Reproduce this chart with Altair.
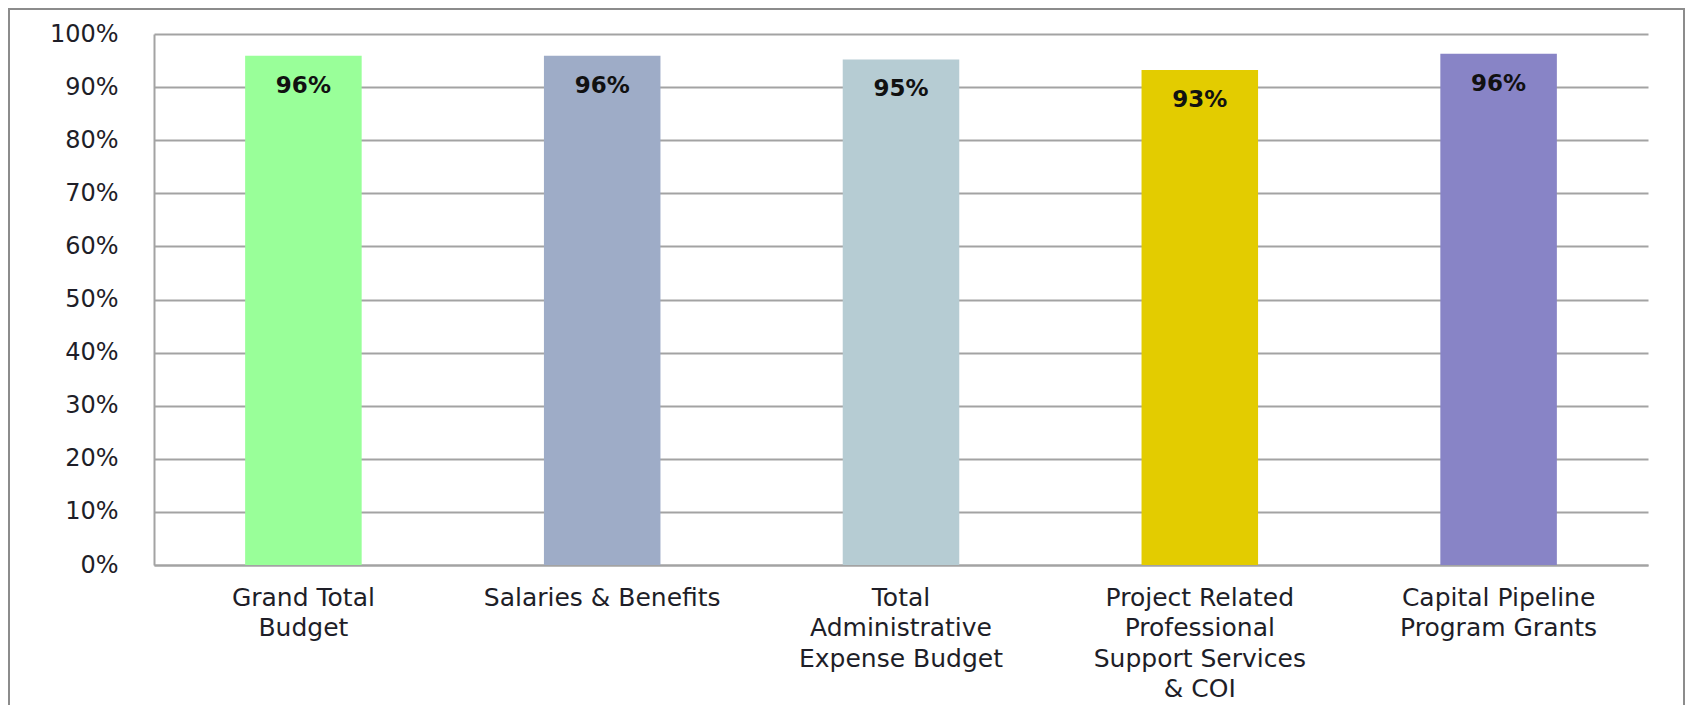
import altair as alt
import pandas as pd

categories = [
    "Grand Total\nBudget",
    "Salaries & Benefits",
    "Total\nAdministrative\nExpense Budget",
    "Project Related\nProfessional\nSupport Services\n& COI",
    "Capital Pipeline\nProgram Grants",
]
values = [0.959, 0.959, 0.952, 0.932, 0.963]
labels = ["96%", "96%", "95%", "93%", "96%"]
colors = ["#99FF99", "#9EACC7", "#B6CCD3", "#E3CC00", "#8884C6"]

df = pd.DataFrame({"cat": categories, "value": values, "label": labels})

FONT = "DejaVu Sans"
GRAY = "#a3a3a3"

x_enc = alt.X(
    "cat:N",
    sort=None,
    title=None,
    scale=alt.Scale(paddingInner=0.61, paddingOuter=0.305),
    axis=alt.Axis(
        labelAngle=0,
        labelExpr="split(datum.label, '\\n')",
        labelLineHeight=30.5,
        labelPadding=20,
        labelBaseline="top",
        labelLimit=400,
        labelFontSize=25,
        labelFont=FONT,
        labelColor="#1e1e28",
        ticks=False,
        grid=False,
        domainColor=GRAY,
        domainWidth=2,
    ),
)

y_enc = alt.Y(
    "value:Q",
    title=None,
    scale=alt.Scale(domain=[0, 1], nice=False, zero=True),
    axis=alt.Axis(
        values=[i / 10 for i in range(11)],
        format=".0%",
        labelPadding=36,
        labelFontSize=24,
        labelFont=FONT,
        labelColor="#1e1e28",
        ticks=False,
        grid=True,
        gridColor=GRAY,
        gridWidth=2,
        domainColor=GRAY,
        domainWidth=2,
    ),
)

bars = alt.Chart(df).mark_bar().encode(
    x=x_enc,
    y=y_enc,
    color=alt.Color("cat:N", sort=None,
                    scale=alt.Scale(domain=categories, range=colors),
                    legend=None),
)

text = alt.Chart(df).mark_text(
    baseline="middle", align="center", dy=30,
    font=FONT, fontWeight="bold", fontSize=23, color="#111111",
).encode(
    x=alt.X("cat:N", sort=None),
    y=alt.Y("value:Q"),
    text="label:N",
)

frame = alt.Chart(pd.DataFrame({"a": [0]})).mark_rect(
    fillOpacity=0, stroke="#8c8c8c", strokeWidth=2
).encode(
    x=alt.value(-145), x2=alt.value(1530), y=alt.value(-25), y2=alt.value(900)
)

chart = alt.layer(frame, bars, text).properties(
    width=1494,
    height=531,
    autosize=alt.AutoSizeParams(type="none"),
    padding={"left": 146, "top": 26, "right": 37, "bottom": 140},
).configure(background="white").configure_view(strokeWidth=0, strokeOpacity=0)

chart.save("out.html", embed_options={"renderer": "svg", "actions": False})
